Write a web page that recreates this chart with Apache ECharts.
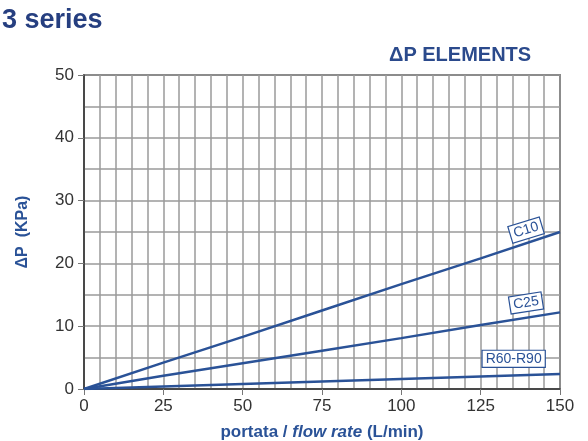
<!DOCTYPE html>
<html><head><meta charset="utf-8">
<script src="https://cdn.jsdelivr.net/npm/echarts@6/dist/echarts.min.js"></script>
<style>html,body{margin:0;padding:0;background:#fff}#c{width:588px;height:441px}</style>
</head><body><div id="c"></div>
<script>
const flowRate = [0, 25, 50, 75, 100, 125, 150];
const c10 = [0, 4.2, 8.3, 12.5, 16.7, 20.8, 25.0];
const c25 = [0, 2.1, 4.1, 6.1, 8.1, 10.2, 12.2];
const r60r90 = [0, 0.4, 0.8, 1.2, 1.6, 2.0, 2.4];
const seriesNames = ['C10', 'C25', 'R60-R90'];
const labelAnchors = [[139.3, 25.3], [139.3, 13.7], [135.4, 4.8]];
const labelAngles = [17, 9, 0];
const values = [c10, c25, r60r90];

const blue = '#2a5297';
const font = '"Liberation Sans", Arial, sans-serif';
const chart = echarts.init(document.getElementById('c'), null, {renderer: 'canvas'});
chart.setOption({
  animation: false,
  textStyle: {fontFamily: font},
  title: [
    {text: '3 series', left: -3, top: 2, textStyle: {fontSize: 27, fontWeight: 'bold', color: '#263f80', fontFamily: font}},
    {text: 'ΔP ELEMENTS', left: 384, top: 40, textStyle: {fontSize: 20, fontWeight: 'bold', color: '#2b4a8c', fontFamily: font}}
  ],
  grid: {left: 84, right: 28, top: 75, bottom: 52, outerBoundsMode: 'none', containLabel: false,
    show: true, borderColor: '#333', borderWidth: 1.5, backgroundColor: 'transparent'},
  xAxis: {
    type: 'value', min: 0, max: 150, interval: 25,
    axisLine: {lineStyle: {color: '#333', width: 1.5}},
    axisTick: {show: true, length: 6, lineStyle: {color: '#777'}},
    axisLabel: {color: '#333', fontSize: 17, margin: 9, fontFamily: font},
    splitLine: {show: true, lineStyle: {color: '#9a9a9a', width: 1.5}},
    minorTick: {show: false, splitNumber: 5},
    minorSplitLine: {show: true, lineStyle: {color: '#9a9a9a', width: 1.5}},
    name: '{b|portata / }{i|flow rate}{b| (L/min)}',
    nameLocation: 'middle', nameGap: 35,
    nameTextStyle: {rich: {
      b: {fontSize: 17, fontWeight: 'bold', color: blue, fontFamily: font},
      i: {fontSize: 17, fontWeight: 'bold', fontStyle: 'italic', color: blue, fontFamily: font}
    }}
  },
  yAxis: {
    type: 'value', min: 0, max: 50, interval: 10,
    axisLine: {show: true, lineStyle: {color: '#333', width: 1.5}},
    axisTick: {show: true, length: 6, lineStyle: {color: '#777'}},
    axisLabel: {color: '#333', fontSize: 17, margin: 10, fontFamily: font},
    splitLine: {show: true, lineStyle: {color: '#9a9a9a', width: 1.5}},
    minorTick: {show: false, splitNumber: 2},
    minorSplitLine: {show: true, lineStyle: {color: '#9a9a9a', width: 1.5}},
    name: 'ΔP  (KPa)', nameLocation: 'middle', nameGap: 53,
    nameTextStyle: {fontSize: 16, fontWeight: 'bold', color: blue, fontFamily: font}
  },
  series: values.map((v, k) => ({
    type: 'line', name: seriesNames[k], showSymbol: false,
    data: flowRate.map((x, i) => [x, v[i]]),
    lineStyle: {color: blue, width: 2.5},
    markPoint: {
      symbol: 'rect', symbolSize: 1, itemStyle: {color: 'transparent'},
      data: [{coord: labelAnchors[k], value: seriesNames[k]}],
      label: {
        show: true, formatter: seriesNames[k], position: 'inside', rotate: labelAngles[k],
        color: blue, fontSize: 14, fontFamily: font,
        backgroundColor: '#fff', borderColor: blue, borderWidth: 1.2,
        padding: [2, 3, 0, 3]
      }
    }
  }))
});
</script></body></html>
